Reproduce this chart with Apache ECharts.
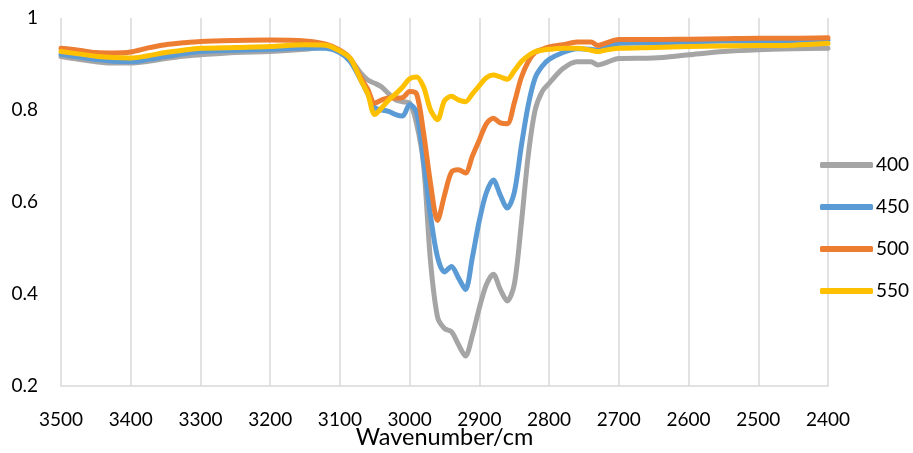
<!DOCTYPE html>
<html>
<head>
<meta charset="utf-8">
<script src="https://cdn.jsdelivr.net/npm/echarts@6/dist/echarts.min.js"></script>
<style>
  html, body { margin: 0; padding: 0; background: #fff; }
  #chart { width: 913px; height: 453px; }
</style>
</head>
<body>
<div id="chart"></div>
<script>
  // 波数 (cm-1)
  var wavenumbers = [3500, 3475, 3450, 3425, 3400, 3375, 3350, 3325, 3300, 3250, 3200, 3150, 3120, 3100, 3085,
    3070, 3060, 3050, 3040, 3030, 3020, 3010, 3000, 2990, 2980, 2970, 2960, 2950, 2940, 2930, 2920, 2910, 2900,
    2890, 2880, 2870, 2860, 2850, 2840, 2830, 2820, 2810, 2800, 2780, 2760, 2740, 2730, 2720, 2700, 2650, 2600,
    2550, 2500, 2450, 2400];

  var seriesNames = ['400', '450', '500', '550'];

  var t400 = [0.916, 0.910, 0.905, 0.902, 0.902, 0.906, 0.912, 0.917, 0.920, 0.925, 0.927, 0.932, 0.937, 0.925, 0.909,
    0.880, 0.865, 0.858, 0.850, 0.835, 0.822, 0.818, 0.815, 0.770, 0.680, 0.470, 0.350, 0.325, 0.318, 0.290, 0.265, 0.310, 0.370,
    0.420, 0.443, 0.410, 0.385, 0.420, 0.550, 0.700, 0.800, 0.840, 0.858, 0.890, 0.905, 0.905, 0.898, 0.902, 0.912, 0.913, 0.920,
    0.927, 0.931, 0.933, 0.934];

  var t450 = [0.921, 0.915, 0.910, 0.906, 0.905, 0.910, 0.916, 0.922, 0.927, 0.930, 0.932, 0.935, 0.934, 0.925, 0.905,
    0.865, 0.835, 0.805, 0.800, 0.797, 0.790, 0.787, 0.812, 0.795, 0.690, 0.570, 0.480, 0.448, 0.460, 0.435, 0.410, 0.480, 0.560,
    0.620, 0.648, 0.615, 0.587, 0.620, 0.720, 0.810, 0.870, 0.895, 0.910, 0.925, 0.933, 0.932, 0.930, 0.935, 0.945, 0.946, 0.948,
    0.950, 0.950, 0.951, 0.952];

  var t500 = [0.934, 0.930, 0.925, 0.924, 0.926, 0.935, 0.942, 0.946, 0.949, 0.951, 0.952, 0.950, 0.943, 0.930, 0.912,
    0.870, 0.845, 0.815, 0.822, 0.826, 0.826, 0.827, 0.840, 0.835, 0.750, 0.640, 0.560, 0.615, 0.665, 0.670, 0.663, 0.700, 0.735,
    0.770, 0.782, 0.772, 0.770, 0.815, 0.870, 0.905, 0.925, 0.932, 0.937, 0.942, 0.948, 0.948, 0.940, 0.945, 0.953, 0.953, 0.954,
    0.955, 0.956, 0.956, 0.957];

  var t550 = [0.927, 0.922, 0.917, 0.914, 0.913, 0.918, 0.925, 0.930, 0.934, 0.936, 0.938, 0.942, 0.941, 0.928, 0.912,
    0.865, 0.835, 0.790, 0.805, 0.822, 0.835, 0.850, 0.868, 0.872, 0.850, 0.800, 0.779, 0.820, 0.830, 0.822, 0.818, 0.835, 0.853,
    0.870, 0.876, 0.872, 0.867, 0.885, 0.905, 0.918, 0.927, 0.930, 0.932, 0.934, 0.934, 0.930, 0.927, 0.930, 0.934, 0.936, 0.938,
    0.939, 0.940, 0.941, 0.945];

  var seriesValues = [t400, t450, t500, t550];
  var colors = ['#a5a5a5', '#5b9bd5', '#ed7d31', '#ffc000'];

  var fontName = 'Lato';

  var chart = echarts.init(document.getElementById('chart'), null, { renderer: 'canvas' });

  var series = seriesNames.map(function (name, i) {
    return {
      name: name,
      type: 'line',
      smooth: 0.3,
      showSymbol: false,
      symbol: 'none',
      lineStyle: { width: 5, color: colors[i], cap: 'round', join: 'round' },
      itemStyle: { color: colors[i] },
      data: wavenumbers.map(function (w, k) { return [w, seriesValues[i][k]]; })
    };
  });

  var option = {
    animation: false,
    color: colors,
    textStyle: { fontFamily: fontName },
    grid: { left: 61, right: 85, top: 18, bottom: 67, outerBoundsMode: 'none', containLabel: false },
    legend: {
      orient: 'vertical',
      left: 820,
      top: 155,
      padding: 0,
      icon: 'roundRect',
      itemWidth: 53,
      itemHeight: 6,
      itemGap: 22,
      textStyle: { fontSize: 19, color: '#000', fontFamily: fontName, lineHeight: 20, padding: [0, 0, 0, -2] },
      data: seriesNames
    },
    xAxis: {
      type: 'value',
      inverse: true,
      min: 2400,
      max: 3500,
      interval: 100,
      name: 'Wavenumber/cm',
      nameLocation: 'middle',
      nameGap: 51,
      nameMoveOverlap: false,
      nameTextStyle: { fontSize: 23.5, color: '#000', fontFamily: fontName, verticalAlign: 'middle' },
      axisLine: { show: true, lineStyle: { color: '#d9d9d9', width: 1.5 } },
      axisTick: { show: false },
      axisLabel: {
        fontSize: 19, color: '#000', margin: 24, fontFamily: fontName,
        formatter: function (v) { return String(v); }
      },
      splitLine: { show: true, lineStyle: { color: '#d9d9d9', width: 1.5 } }
    },
    yAxis: {
      type: 'value',
      min: 0.2,
      max: 1,
      interval: 0.2,
      axisLine: { show: false },
      axisTick: { show: false },
      axisLabel: { fontSize: 19, color: '#000', margin: 23, fontFamily: fontName },
      splitLine: { show: false }
    },
    series: series
  };

  chart.setOption(option);
</script>
</body>
</html>
